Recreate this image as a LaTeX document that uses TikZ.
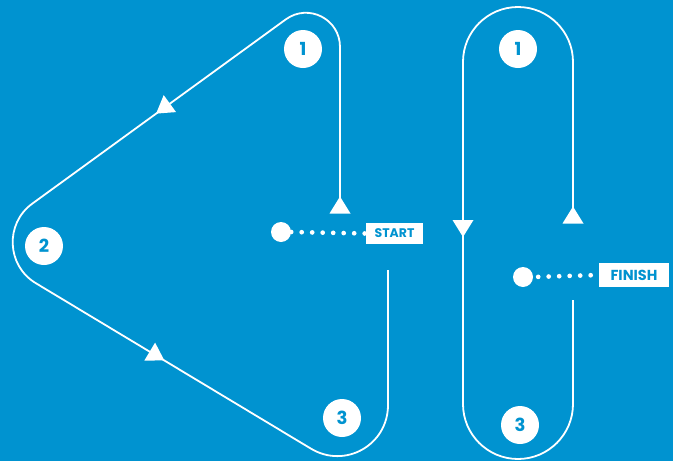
\documentclass[tikz,border=0pt]{standalone}
\usepackage{fontspec}
\newfontfamily\signfont{Poppins}
\usetikzlibrary{calc}
\definecolor{trackblue}{RGB}{0,147,208}
\begin{document}
\begin{tikzpicture}[x=1pt,y=-1pt,
    track/.style={draw=white,line width=1.8pt},
    stop/.style={circle,fill=white,minimum size=38pt,inner sep=0pt,text=trackblue,
      font=\signfont\bfseries\fontsize{18}{18}\selectfont},
    spot/.style={circle,fill=white,minimum size=20pt,inner sep=0pt},
    tag/.style={fill=white,text=trackblue,inner sep=0pt,
      font=\signfont\bfseries\fontsize{12.5}{12.5}\selectfont},
    dots/.style={white,line width=4.7pt,line cap=round,dash pattern=on 0pt off 10.5pt},
    flow/.pic={\fill[white] (8.5,0) -- (-8.5,10.5) -- (-8.5,-10.5) -- cycle;}]
  \useasboundingbox (0,0) rectangle (673,461);
  \fill[trackblue] (0,0) rectangle (673,461);
  % corners of the left lap
  \coordinate (in) at (340,205);
  \coordinate (apex) at (340,-20);
  \coordinate (tip) at (-26,246);
  \coordinate (heel) at (388,495);
  \coordinate (out) at (388,270);
  \draw[track] (in)
    -- ($(apex)!67pt!(in)$)
    .. controls ($(apex)!39pt!(in)$) and ($(apex)!39pt!(tip)$) .. ($(apex)!67pt!(tip)$)
    -- ($(tip)!72pt!(apex)$)
    .. controls ($(tip)!38pt!(apex)$) and ($(tip)!38pt!(heel)$) .. ($(tip)!72pt!(heel)$)
    -- ($(heel)!90pt!(tip)$)
    .. controls ($(heel)!50pt!(tip)$) and ($(heel)!50pt!(out)$) .. ($(heel)!90pt!(out)$)
    -- (out);
  % the right lap
  \coordinate (back) at (573,215);
  \coordinate (ne) at (573,7);
  \coordinate (nw) at (463,7);
  \coordinate (sw) at (463,459);
  \coordinate (se) at (573,459);
  \coordinate (home) at (573,300);
  \draw[track,rounded corners=55pt] (back) -- (ne) -- (nw) -- (sw) -- (se) -- (home);
  % direction marks
  \pic[rotate=90] at (in) {flow};
  \pic[rotate=216] at (163,108.6) {flow};
  \pic[rotate=-31] at (157,356) {flow};
  \pic[rotate=-90] at (463,228.5) {flow};
  \pic[rotate=90] at (back) {flow};
  % numbered stops
  \node[stop] (one) at (303,49) {1};
  \node[stop] (two) at (44,246) {2};
  \node[stop] (three) at (342,418) {3};
  \node[stop] (oneb) at (518,49) {1};
  \node[stop] (threeb) at (520,425) {3};
  % start and finish
  \node[spot] (start) at (281,232) {};
  \node[tag,minimum width=57pt,minimum height=21pt] (startlabel) at (394.5,233.5) {START};
  \node[spot] (finish) at (523,277) {};
  \node[tag,minimum width=70pt,minimum height=24pt,font=\signfont\bfseries\fontsize{14.5}{14.5}\selectfont] (finishlabel) at (634,275) {FINISH};
  \draw[dots] (start.east) -- (startlabel.west);
  \draw[dots,shorten <=5pt] (finish.east) -- (finishlabel.west);
\end{tikzpicture}
\end{document}
